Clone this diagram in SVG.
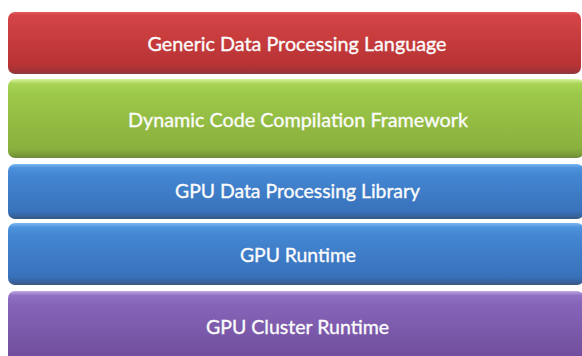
<svg xmlns="http://www.w3.org/2000/svg" width="582" height="356" viewBox="0 0 582 356">
  <defs>
    <linearGradient id="gRed" x1="0" y1="0" x2="0" y2="1">
      <stop offset="0" stop-color="#e0585a"/>
      <stop offset="0.06" stop-color="#d44446"/>
      <stop offset="0.85" stop-color="#b83334"/>
      <stop offset="0.95" stop-color="#a33337"/>
      <stop offset="1" stop-color="#8a3a46"/>
    </linearGradient>
    <linearGradient id="gGreen" x1="0" y1="0" x2="0" y2="1">
      <stop offset="0" stop-color="#dcf3a0"/>
      <stop offset="0.06" stop-color="#a8d456"/>
      <stop offset="0.2" stop-color="#9cc849"/>
      <stop offset="0.88" stop-color="#8ab03d"/>
      <stop offset="0.96" stop-color="#7a9c38"/>
      <stop offset="1" stop-color="#6b8a3c"/>
    </linearGradient>
    <linearGradient id="gBlue" x1="0" y1="0" x2="0" y2="1">
      <stop offset="0" stop-color="#7ab8f2"/>
      <stop offset="0.07" stop-color="#4d92dc"/>
      <stop offset="0.2" stop-color="#4486d2"/>
      <stop offset="0.86" stop-color="#3872bb"/>
      <stop offset="0.95" stop-color="#36639e"/>
      <stop offset="1" stop-color="#3b5778"/>
    </linearGradient>
    <linearGradient id="gPurple" x1="0" y1="0" x2="0" y2="1">
      <stop offset="0" stop-color="#c2aae6"/>
      <stop offset="0.06" stop-color="#9071c2"/>
      <stop offset="0.2" stop-color="#8564b8"/>
      <stop offset="1" stop-color="#6f4c9a"/>
    </linearGradient>
  </defs>
  <style>
    .bar { stroke: none; }
    .label { font-family: Lato, "Open Sans", "Liberation Sans", sans-serif; font-size: 19.5px; font-weight: normal; fill: #fbfbfb; stroke: #fbfbfb; stroke-width: 0.35; text-anchor: middle; }
  </style>

  <rect width="582" height="356" fill="#ffffff"/>

  <g id="generic-language">
    <rect class="bar" x="8" y="12" width="573" height="62" rx="7" fill="url(#gRed)"/>
    <text class="label" x="297" y="51" textLength="299" lengthAdjust="spacingAndGlyphs">Generic Data Processing Language</text>
  </g>

  <g id="code-compilation">
    <rect class="bar" x="8" y="79" width="576" height="79" rx="7" fill="url(#gGreen)"/>
    <text class="label" x="298" y="127" textLength="340" lengthAdjust="spacingAndGlyphs">Dynamic Code Compilation Framework</text>
  </g>

  <g id="gpu-library">
    <rect class="bar" x="8" y="164" width="576" height="55" rx="7" fill="url(#gBlue)"/>
    <text class="label" x="297.5" y="198" textLength="245" lengthAdjust="spacingAndGlyphs">GPU Data Processing Library</text>
  </g>

  <g id="gpu-runtime">
    <rect class="bar" x="8" y="223" width="576" height="62" rx="7" fill="url(#gBlue)"/>
    <text class="label" x="298" y="262" textLength="116" lengthAdjust="spacingAndGlyphs">GPU Runtime</text>
  </g>

  <g id="gpu-cluster-runtime">
    <rect class="bar" x="8" y="291" width="576" height="72" rx="7" fill="url(#gPurple)"/>
    <text class="label" x="297.5" y="334" textLength="183" lengthAdjust="spacingAndGlyphs">GPU Cluster Runtime</text>
  </g>
</svg>
